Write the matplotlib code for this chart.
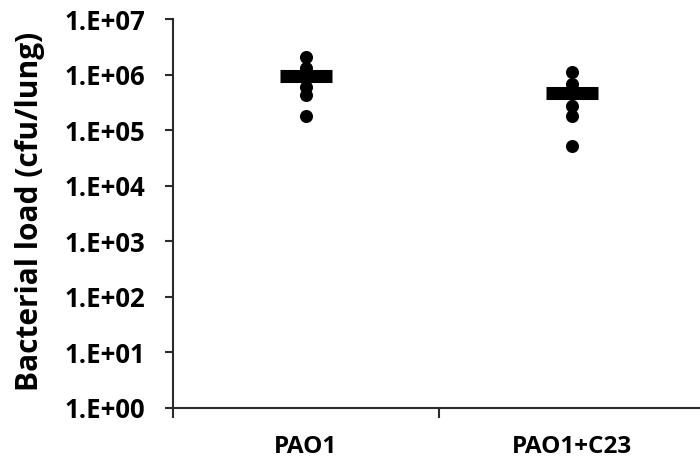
import numpy as np
import matplotlib
matplotlib.use("Agg")
import matplotlib.pyplot as plt
from matplotlib.ticker import FixedLocator, NullFormatter

groups = ["PAO1", "PAO1+C23"]
pao1_vals = [2.1e6, 1.3e6, 9.0e5, 5.9e5, 4.3e5, 1.8e5]
c23_vals = [1.1e6, 6.8e5, 4.5e5, 2.7e5, 1.8e5, 5.2e4]
means = [9.6e5, 4.7e5]
ytick_vals = [1e0, 1e1, 1e2, 1e3, 1e4, 1e5, 1e6, 1e7]
ytick_labels = ["1.E+00", "1.E+01", "1.E+02", "1.E+03", "1.E+04", "1.E+05", "1.E+06", "1.E+07"]

plt.rcParams["font.family"] = ["Open Sans", "DejaVu Sans"]
plt.rcParams["font.weight"] = "bold"

fig = plt.figure(figsize=(7, 4.61), dpi=100)
ax = fig.add_axes([173 / 700, 1 - 407.7 / 461, 532 / 700, (407.7 - 19) / 461])

axis_col = "#2b2b2b"
for i, vals in enumerate([pao1_vals, c23_vals]):
    ax.plot([i] * len(vals), vals, "o", color="black", ms=9.4, mec="none", zorder=3)
    ax.plot([i - 0.098, i + 0.098], [means[i], means[i]], color="black", lw=9.4,
            solid_capstyle="butt", zorder=4)

ax.set_yscale("log")
ax.set_ylim(1, 1e7)
ax.set_xlim(-0.5, 1.5)
ax.yaxis.set_major_locator(FixedLocator(ytick_vals))
ax.set_yticklabels(ytick_labels)
ax.yaxis.set_minor_locator(FixedLocator([]))
ax.set_xticks([0, 1])
ax.set_xticklabels(groups)
ax.xaxis.set_minor_locator(FixedLocator([-0.5, 0.5, 1.5]))
ax.xaxis.set_minor_formatter(NullFormatter())

ax.tick_params(axis="x", which="major", length=0, pad=20, labelsize=17.5)
ax.tick_params(axis="x", which="minor", length=7, width=1.5, color=axis_col, direction="out")
ax.tick_params(axis="y", which="major", length=6, width=1.5, color=axis_col, direction="out",
               labelsize=18.5, pad=14)

for s in ["top", "right"]:
    ax.spines[s].set_visible(False)
for s in ["left", "bottom"]:
    ax.spines[s].set_linewidth(1.5)
    ax.spines[s].set_color(axis_col)
    ax.spines[s].set_clip_on(False)

ax.set_ylabel("Bacterial load (cfu/lung)", fontsize=21.5, fontweight="bold")
ax.yaxis.set_label_coords(-0.24, 0.505)

fig.savefig("out.png", dpi=100)
